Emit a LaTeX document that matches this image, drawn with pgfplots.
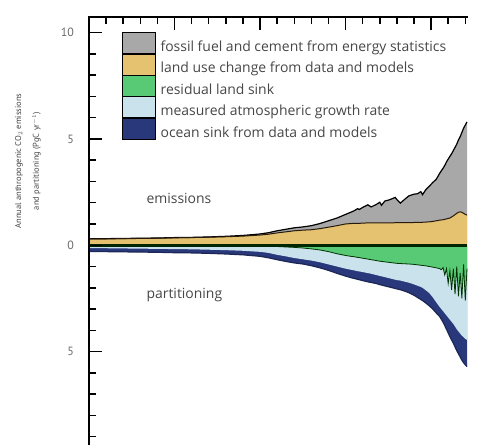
\documentclass[border=0pt]{standalone}
\usepackage{pgfplots}
\pgfplotsset{compat=1.18}
\usepackage{pgfplotstable}
\usepackage{fontspec}
\setmainfont{Open Sans}
\newfontfamily\labelfont{PT Sans}
\definecolor{ffgray}{RGB}{168,168,168}
\definecolor{luctan}{RGB}{228,194,112}
\definecolor{lndgreen}{RGB}{88,202,118}
\definecolor{atmblue}{RGB}{202,226,236}
\definecolor{ocnblue}{RGB}{40,56,122}
\definecolor{txtgray}{RGB}{70,70,70}

\pgfplotstableread{
year luc tot lnd lg lgo
1750 0.30 0.30 0.02 0.14 0.30
1760 0.30 0.31 0.02 0.14 0.30
1770 0.31 0.32 0.02 0.15 0.31
1780 0.32 0.33 0.02 0.16 0.32
1790 0.33 0.34 0.02 0.17 0.33
1800 0.35 0.36 0.02 0.18 0.35
1810 0.36 0.37 0.02 0.19 0.36
1820 0.38 0.39 0.03 0.21 0.38
1830 0.40 0.42 0.03 0.23 0.41
1840 0.43 0.46 0.03 0.26 0.45
1850 0.48 0.53 0.04 0.31 0.52
1855 0.52 0.59 0.05 0.36 0.59
1860 0.58 0.68 0.06 0.45 0.68
1865 0.63 0.75 0.08 0.52 0.76
1870 0.68 0.82 0.10 0.60 0.83
1875 0.71 0.86 0.13 0.66 0.88
1880 0.73 0.92 0.17 0.72 0.96
1885 0.78 1.02 0.22 0.80 1.06
1890 0.85 1.15 0.30 0.90 1.18
1895 0.92 1.28 0.40 1.00 1.32
1900 1.00 1.45 0.48 1.10 1.45
1903 1.02 1.55 0.52 1.15 1.52
1905 1.03 1.62 0.54 1.18 1.56
1907 1.03 1.72 0.57 1.22 1.60
1908 1.03 1.68 0.58 1.23 1.62
1910 1.04 1.78 0.61 1.26 1.66
1913 1.05 1.90 0.65 1.31 1.72
1915 1.05 1.80 0.68 1.34 1.75
1918 1.05 1.92 0.72 1.40 1.80
1920 1.05 2.02 0.75 1.44 1.85
1921 1.05 1.88 0.76 1.46 1.87
1923 1.05 2.08 0.78 1.50 1.91
1925 1.05 2.12 0.80 1.54 1.95
1927 1.05 2.18 0.82 1.58 1.99
1929 1.06 2.25 0.84 1.62 2.03
1930 1.06 2.15 0.85 1.64 2.05
1932 1.06 1.98 0.86 1.66 2.09
1934 1.06 2.12 0.87 1.70 2.14
1937 1.06 2.32 0.88 1.76 2.23
1940 1.07 2.40 0.90 1.84 2.35
1942 1.07 2.42 0.92 1.90 2.45
1944 1.08 2.52 0.94 1.96 2.55
1945 1.08 2.38 0.95 2.00 2.60
1947 1.09 2.62 0.97 2.12 2.72
1949 1.10 2.78 1.00 2.25 2.85
1951 1.12 2.95 1.03 2.45 3.00
1953 1.15 3.10 1.06 2.68 3.18
1955 1.18 3.38 1.10 2.90 3.35
1956 1.19 3.50 1.15 3.00 3.48
1957 1.20 3.62 1.05 3.10 3.62
1958 1.22 3.75 1.40 3.20 3.78
1959 1.24 3.92 1.10 3.30 3.95
1960 1.26 4.05 1.80 3.40 4.12
1961 1.28 4.18 1.20 3.50 4.30
1962 1.33 4.30 2.10 3.60 4.45
1963 1.38 4.45 1.10 3.70 4.60
1964 1.44 4.60 2.30 3.82 4.78
1965 1.50 4.75 1.00 3.95 4.95
1966 1.55 4.95 2.40 4.05 5.10
1967 1.57 5.10 1.30 4.15 5.25
1968 1.55 5.30 2.50 4.25 5.40
1969 1.50 5.50 0.90 4.32 5.52
1970 1.45 5.65 2.60 4.40 5.62
1971 1.42 5.80 1.10 4.45 5.70
}\budget

\begin{document}
\begin{tikzpicture}
\useasboundingbox (0bp,0bp) rectangle (477bp,445bp);
\begin{axis}[name=ax, at={(89bp,0bp)}, anchor=south west,
  scale only axis, width=378bp, height=428bp,
  xmin=1750, xmax=1971, ymin=-9.39, ymax=10.73,
  axis on top,
  axis line style={draw=none},
  xtick pos=right, ytick pos=left,
  tick align=inside,
  xtick={1750,1800,1850,1900,1950},
  minor xtick={1760,1770,1780,1790,1810,1820,1830,1840,1860,1870,1880,1890,1910,1920,1930,1940,1960,1970},
  xticklabel style={text opacity=0},
  ytick={-5,0,5,10}, yticklabels={5,0,5,10},
  minor ytick={-9,-8,-7,-6,-4,-3,-2,-1,1,2,3,4,6,7,8,9},
  major tick length=13bp, minor tick length=7bp,
  major tick style={black, line width=1.5bp}, minor tick style={black, line width=1.5bp},
  yticklabel style={font=\fontsize{12}{12}\selectfont\labelfont, text=txtgray!80, inner sep=0pt, xshift=-15bp},
  clip=false,
  legend image code/.code={\fill[#1] (0bp,-6.5bp) rectangle (33bp,14.5bp); \path (38bp,0bp);},
  legend cell align=left,
  legend style={at={(0.0873,0.965)}, anchor=north west, draw=none, fill=none,
    row sep=0pt, inner sep=0pt,
    nodes={inner sep=0pt, text=txtgray, font=\fontsize{14}{15}\selectfont}},
]
% emissions
\addplot[draw=none, fill=ffgray, mark=none, forget plot] table[x=year, y=tot]{\budget} \closedcycle;
\addplot[draw=none, fill=luctan, mark=none, forget plot] table[x=year, y=luc]{\budget} \closedcycle;
% partitioning
\addplot[draw=none, fill=ocnblue, mark=none, forget plot] table[x=year, y expr=-\thisrow{lgo}]{\budget} \closedcycle;
\addplot[draw=none, fill=atmblue, mark=none, forget plot] table[x=year, y expr=-\thisrow{lg}]{\budget} \closedcycle;
\addplot[draw=none, fill=lndgreen, mark=none, forget plot] table[x=year, y expr=-\thisrow{lnd}]{\budget} \closedcycle;
% outlines
\addplot[black, line width=1.2bp, mark=none, forget plot] table[x=year, y=tot]{\budget};
\addplot[black!80!brown, line width=1bp, mark=none, forget plot] table[x=year, y=luc]{\budget};
\addplot[ocnblue!70!black, line width=1.2bp, mark=none, forget plot] table[x=year, y expr=-\thisrow{lgo}]{\budget};
\addplot[black!80!green, line width=0.8bp, mark=none, forget plot] table[x=year, y expr=-\thisrow{lnd}]{\budget};
% zero line
\addplot[black!85!green, line width=3bp, mark=none, forget plot] coordinates {(1750,0) (1971,0)};

\addlegendimage{fill=ffgray}
\addlegendentry{fossil fuel and cement from energy statistics}
\addlegendimage{fill=luctan}
\addlegendentry{land use change from data and models}
\addlegendimage{fill=lndgreen}
\addlegendentry{residual land sink}
\addlegendimage{fill=atmblue}
\addlegendentry{measured atmospheric growth rate}
\addlegendimage{fill=ocnblue}
\addlegendentry{ocean sink from data and models}

% axis spines (left and top only)
\draw[black, line width=1.8bp, line cap=rect] (rel axis cs:0,0) -- (rel axis cs:0,1) -- (rel axis cs:1,1);

\node[anchor=west, text=txtgray, font=\fontsize{14}{15}\selectfont] at (axis cs:1781.6,2.22) {emissions};
\node[anchor=west, text=txtgray, font=\fontsize{14}{15}\selectfont] at (axis cs:1781.6,-2.34) {partitioning};
\node[rotate=90, text=txtgray, font=\fontsize{8.5}{10}\selectfont\labelfont] at (axis cs:1709.1,3.96)
  {Annual anthropogenic CO$_2$ emissions};
\node[rotate=90, text=txtgray, font=\fontsize{8.5}{10}\selectfont\labelfont] at (axis cs:1719.3,3.96)
  {and partitioning (PgC yr$^{-1}$)};
\end{axis}
\end{tikzpicture}
\end{document}
